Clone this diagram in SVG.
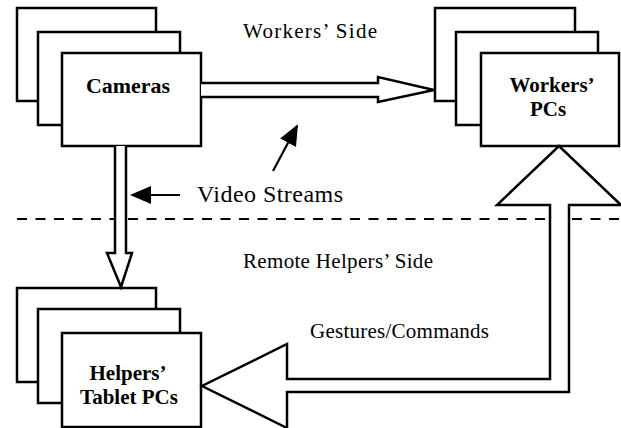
<svg xmlns="http://www.w3.org/2000/svg" width="621" height="428" viewBox="0 0 621 428">
  <style>
    .box { fill: #fff; stroke: #000; stroke-width: 2.5; }
    .blk { fill: #fff; stroke: #000; stroke-width: 2.5; stroke-linejoin: miter; }
    .lbl { font-family: "Liberation Serif", "Times New Roman", serif; font-size: 21px; fill: #000; }
    .node { font-family: "Liberation Serif", "Times New Roman", serif; font-size: 21px; font-weight: bold; fill: #000; text-anchor: middle; }
    .ptr { stroke: #000; stroke-width: 2.2; fill: none; }
  </style>
  <defs>
    <marker id="ah" markerUnits="userSpaceOnUse" markerWidth="22" markerHeight="18" refX="19" refY="9" orient="auto">
      <path d="M0,0 L21,9 L0,18 Z" fill="#000"/>
    </marker>
  </defs>
  <rect width="621" height="428" fill="#fff"/>

  <!-- side separator -->
  <line x1="17" y1="219" x2="621" y2="219" stroke="#000" stroke-width="2.2" stroke-dasharray="10 8.5"/>

  <text class="lbl" x="243" y="38" textLength="134" lengthAdjust="spacing">Workers’ Side</text>
  <text class="lbl" x="243" y="268" textLength="190" lengthAdjust="spacing">Remote Helpers’ Side</text>
  <text class="lbl" x="310" y="338" textLength="179" lengthAdjust="spacing">Gestures/Commands</text>
  <text class="lbl" x="197" y="202" style="font-size:24px" textLength="146" lengthAdjust="spacing">Video Streams</text>

  <g id="cameras">
    <rect class="box" x="17" y="8" width="139" height="93"/>
    <rect class="box" x="38" y="32" width="142" height="93"/>
    <rect class="box" x="62" y="53" width="139" height="93"/>
    <text class="node" x="128" y="93" textLength="84" lengthAdjust="spacingAndGlyphs">Cameras</text>
  </g>

  <g id="workers-pcs">
    <rect class="box" x="435" y="8" width="140" height="93"/>
    <rect class="box" x="456" y="32" width="142" height="93"/>
    <rect class="box" x="481" y="53" width="138" height="93"/>
    <text class="node" x="552" y="92">Workers’</text>
    <text class="node" x="548" y="116">PCs</text>
  </g>

  <g id="helpers-tablet-pcs">
    <rect class="box" x="17" y="288" width="139" height="94"/>
    <rect class="box" x="38" y="309" width="142" height="94"/>
    <rect class="box" x="62" y="333" width="139" height="94"/>
    <text class="node" x="128" y="380">Helpers’</text>
    <text class="node" x="129" y="404">Tablet PCs</text>
  </g>

  <g id="connectors">
    <!-- cameras to workers' PCs -->
    <path class="blk" d="M201,83 L378,83 L378,77 L434,90 L378,102 L378,97 L201,97"/>
    <!-- cameras to helpers' tablet PCs -->
    <path class="blk" d="M115,146 L115,253 L107,253 L121,287 L132,253 L126,253 L126,146"/>
    <!-- helpers to workers (gestures/commands) -->
    <path class="blk" d="M287,379 L550,379 L550,205 L497,205 L559,146 L621,205 L569,205 L569,392 L287,392 L287,428 L202,386 L287,344 Z"/>
    <!-- label pointers -->
    <line class="ptr" x1="180" y1="195" x2="132" y2="195" marker-end="url(#ah)"/>
    <line class="ptr" x1="273" y1="171" x2="297" y2="126" marker-end="url(#ah)"/>
  </g>
</svg>
